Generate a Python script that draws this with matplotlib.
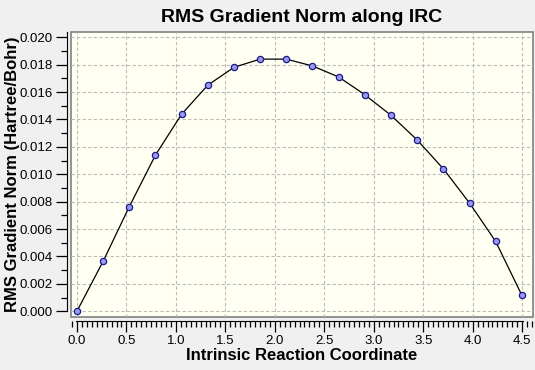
import matplotlib
matplotlib.use("Agg")
import matplotlib.pyplot as plt
from matplotlib.ticker import MultipleLocator, FormatStrFormatter

# IRC step coordinate and RMS gradient norm
irc = [0.0, 0.265, 0.529, 0.794, 1.058, 1.323, 1.587, 1.852, 2.116,
       2.381, 2.645, 2.910, 3.174, 3.439, 3.703, 3.968, 4.232, 4.497]
rms_grad = [0.0, 0.00365, 0.00763, 0.0114, 0.01438, 0.0165, 0.0178,
            0.0184, 0.0184, 0.0179, 0.0171, 0.0158, 0.0143, 0.0125,
            0.0104, 0.0079, 0.0051, 0.00117]

plt.rcParams['font.family'] = ['Liberation Sans', 'DejaVu Sans']

fig = plt.figure(figsize=(5.35, 3.70), dpi=100, facecolor='#f0f0f0')
ax = fig.add_axes([0.1327, 0.1432, 0.8636, 0.7711])
ax.set_facecolor('#fffff2')
ax.patch.set_edgecolor('#808080')
ax.patch.set_linewidth(1.2)

ax.plot(irc, rms_grad, color='black', lw=0.9, marker='o', ms=4.5,
        mfc='#9999ee', mec='#1a1a8c', mew=0.9, zorder=3)

ax.set_xlim(-0.06, 4.61)
ax.set_ylim(-0.00042, 0.0204)

ax.xaxis.set_major_locator(MultipleLocator(0.5))
ax.xaxis.set_minor_locator(MultipleLocator(0.05))
ax.yaxis.set_major_locator(MultipleLocator(0.002))
ax.yaxis.set_minor_locator(MultipleLocator(0.001))
ax.xaxis.set_major_formatter(FormatStrFormatter('%.1f'))
ax.yaxis.set_major_formatter(FormatStrFormatter('%.3f'))

ax.grid(True, which='major', color='#bcbcbc', ls=(0, (3, 2)), lw=0.8)

for s in ['top', 'right']:
    ax.spines[s].set_visible(False)
ax.spines['left'].set_position(('outward', 3))
ax.spines['bottom'].set_position(('outward', 3))
ax.spines['left'].set_bounds(-0.00001, 0.0204)
ax.spines['bottom'].set_bounds(-0.005, 4.505)

ax.tick_params(which='major', length=8, width=0.9, labelsize=9.5, pad=2)
ax.tick_params(which='minor', length=4, width=0.9)

ax.set_title('RMS Gradient Norm along IRC', fontsize=14, fontweight='bold',
             pad=7)
ax.set_xlabel('Intrinsic Reaction Coordinate', fontsize=12,
              fontweight='bold', labelpad=1)
ax.set_ylabel('RMS Gradient Norm (Hartree/Bohr)', fontsize=12,
              fontweight='bold', labelpad=0)

fig.savefig('out.png', dpi=100, facecolor=fig.get_facecolor())
